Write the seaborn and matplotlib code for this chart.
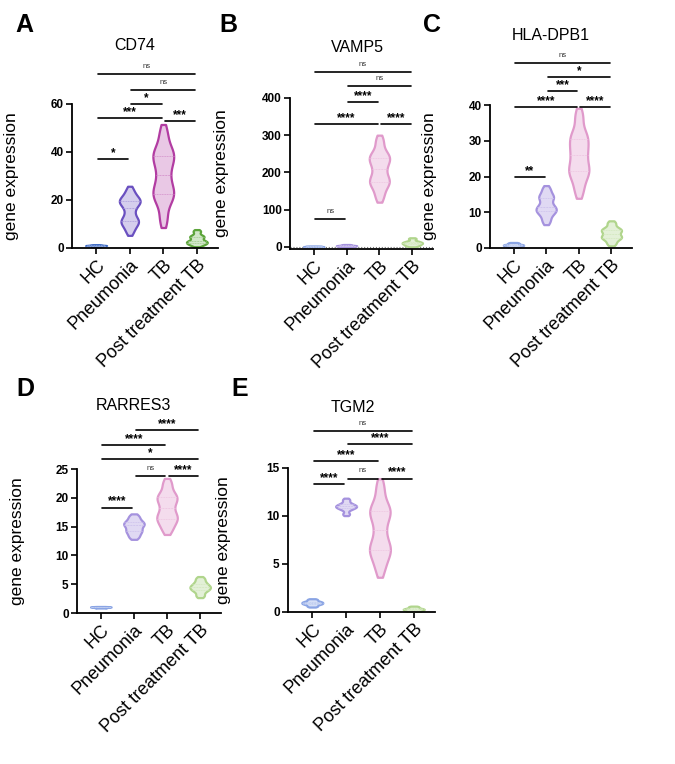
import numpy as np
import pandas as pd
import matplotlib
matplotlib.use('Agg')
import matplotlib.pyplot as plt
import matplotlib.colors as mcolors
import seaborn as sns

groups = ['HC', 'Pneumonia', 'TB', 'Post treatment TB']

# per-sample expression values
cd74 = [[0.6, 0.9, 1.0, 1.1, 1.3],
        [7, 10, 11, 12, 15, 18, 19, 20, 21, 24],
        [12, 20, 22, 24, 28, 33, 37, 39, 41, 48],
        [1.2, 2, 2.5, 3, 4.5, 5, 7]]
vamp5 = [[0.2, 0.5, 1, 1.5, 2],
         [0.5, 1.5, 2.5, 3, 4, 5.5],
         [135, 165, 175, 185, 210, 230, 240, 250, 285],
         [2, 5, 8, 10, 12, 15, 22]]
hla_dpb1 = [[0.3, 0.6, 0.8, 1.0, 1.4],
            [7.5, 9.5, 10.5, 11, 12, 14, 14.5, 16.5],
            [16, 20, 21.5, 23, 26, 28, 30.5, 32, 37],
            [1.2, 2.5, 3, 3.5, 4.5, 5, 5.5, 7]]
rarres3 = [[0.9, 1.0, 1.05, 1.1],
           [13.2, 14, 14.5, 15.2, 15.5, 16, 16.8],
           [14.5, 16, 16.5, 17.5, 19, 20, 20.5, 22.5],
           [3, 3.8, 4.2, 4.5, 4.8, 5.3, 6]]
tgm2 = [[0.6, 0.8, 0.9, 1.0, 1.1, 1.3],
        [10.2, 10.7, 10.9, 11.0, 11.1, 11.3, 11.7],
        [4.5, 6, 6.5, 7, 8.5, 10, 10.5, 11, 13],
        [0.05, 0.15, 0.25, 0.3, 0.4, 0.55]]

# significance comparisons: (group i, group j), label, bracket height
cd74_pairs = [(0, 3), (1, 3), (1, 2), (0, 2), (2, 3), (0, 1)]
cd74_labels = ['ns', 'ns', '*', '***', '***', '*']
cd74_heights = [72.5, 65.8, 60, 54.2, 52.9, 37.1]

vamp5_pairs = [(0, 3), (1, 3), (1, 2), (0, 2), (2, 3), (0, 1)]
vamp5_labels = ['ns', 'ns', '****', '****', '****', 'ns']
vamp5_heights = [470, 432, 390, 330, 330, 75]

hla_pairs = [(0, 3), (1, 3), (1, 2), (0, 2), (2, 3), (0, 1)]
hla_labels = ['ns', '*', '***', '****', '****', '**']
hla_heights = [51.8, 47.7, 44, 39.5, 39.5, 19.9]

rarres3_pairs = [(1, 3), (0, 2), (0, 3), (1, 2), (2, 3), (0, 1)]
rarres3_labels = ['****', '****', '*', 'ns', '****', '****']
rarres3_heights = [31.8, 29.2, 26.7, 23.8, 23.8, 18.3]

tgm2_pairs = [(0, 3), (1, 3), (0, 2), (1, 2), (2, 3), (0, 1)]
tgm2_labels = ['ns', '****', '****', 'ns', '****', '****']
tgm2_heights = [18.85, 17.5, 15.7, 13.9, 13.9, 13.3]

strong_edges = ['#3a68c4', '#6a50c0', '#b23ca2', '#5ca43a']
soft_edges = ['#8aa4e4', '#a592de', '#e09acb', '#b0d58c']


def lighten(color, amount):
    c = np.array(mcolors.to_rgb(color))
    return tuple(c + (1 - c) * amount)


def draw_violins(ax, values, edges, fill_amount):
    df = pd.DataFrame({'group': np.repeat(groups, [len(v) for v in values]),
                       'value': np.concatenate(values)})
    for g, ec in zip(groups, edges):
        sns.violinplot(data=df[df.group == g], x='group', y='value', order=groups,
                       color=lighten(ec, fill_amount), linecolor=ec, linewidth=1.6,
                       inner='quart', inner_kws=dict(linewidth=0.6, color=lighten(ec, 0.45)),
                       width=0.62, density_norm='width', bw_adjust=0.55, cut=0.9,
                       saturation=1, ax=ax)


def draw_brackets(ax, pairs, labels, heights):
    for (i, j), lab, h in zip(pairs, labels, heights):
        ax.plot([i + 0.05, j - 0.05], [h, h], color='black', lw=1.2, clip_on=False)
        if lab == 'ns':
            ax.annotate(lab, (0.5 * (i + j), h), xytext=(0, 3), textcoords='offset points',
                        ha='center', va='bottom', fontsize=5.5, color='#333333',
                        annotation_clip=False)
        else:
            ax.annotate(lab, (0.5 * (i + j), h), xytext=(0, 0), textcoords='offset points',
                        ha='center', va='bottom', fontsize=8.5, fontweight='bold',
                        annotation_clip=False)


def style_axis(ax, yticks, ylim, label_x):
    ax.set_xlim(-0.72, 3.63)
    ax.set_ylim(*ylim)
    ax.set_yticks(yticks)
    ax.set_yticklabels([str(t) for t in yticks], fontsize=8.5, fontweight='bold')
    ax.set_xticks(range(len(groups)))
    ax.set_xticklabels(groups, rotation=45, ha='right', rotation_mode='anchor', fontsize=13)
    ax.set_xlabel('')
    ax.set_ylabel('gene expression', fontsize=12.5)
    ax.yaxis.set_label_coords(label_x, 0.5)
    for side in ['top', 'right']:
        ax.spines[side].set_visible(False)
    for side in ['left', 'bottom']:
        ax.spines[side].set_linewidth(1.3)
        ax.spines[side].set_color('black')
    ax.tick_params(axis='both', width=1.2, length=4, pad=2, color='black', labelcolor='black')


sns.set_style('ticks')
plt.rcParams['font.family'] = ['Liberation Sans', 'DejaVu Sans']
plt.rcParams['text.color'] = 'black'
plt.rcParams['axes.labelcolor'] = 'black'

fig = plt.figure(figsize=(6.75, 7.64), dpi=100)
W, H = 675.0, 764.0


def add_axes(left, right, top, bottom):
    return fig.add_axes([left / W, 1 - bottom / H, (right - left) / W, (bottom - top) / H])


panels = [
    dict(box=(72, 218, 104, 248), vals=cd74, edges=strong_edges, fill=0.72,
         pairs=cd74_pairs, labels=cd74_labels, heights=cd74_heights,
         yticks=[0, 20, 40, 60], ylim=(0, 60), lx=-0.36,
         title='CD74', tpos=(135, 45), letter='A', lpos=(24, 25)),
    dict(box=(290, 433, 98, 249), vals=vamp5, edges=soft_edges, fill=0.65,
         pairs=vamp5_pairs, labels=vamp5_labels, heights=vamp5_heights,
         yticks=[0, 100, 200, 300, 400], ylim=(-6, 400), lx=-0.43,
         title='VAMP5', tpos=(357, 48), letter='B', lpos=(228, 25)),
    dict(box=(490, 632, 105, 248), vals=hla_dpb1, edges=soft_edges, fill=0.65,
         pairs=hla_pairs, labels=hla_labels, heights=hla_heights,
         yticks=[0, 10, 20, 30, 40], ylim=(0, 40), lx=-0.37,
         title='HLA-DPB1', tpos=(551, 36), letter='C', lpos=(432, 25)),
    dict(box=(77, 221, 469, 613), vals=rarres3, edges=soft_edges, fill=0.65,
         pairs=rarres3_pairs, labels=rarres3_labels, heights=rarres3_heights,
         yticks=[0, 5, 10, 15, 20, 25], ylim=(0, 25), lx=-0.36,
         title='RARRES3', tpos=(133, 406), letter='D', lpos=(25, 389)),
    dict(box=(288, 435, 468, 612), vals=tgm2, edges=soft_edges, fill=0.65,
         pairs=tgm2_pairs, labels=tgm2_labels, heights=tgm2_heights,
         yticks=[0, 5, 10, 15], ylim=(0, 15), lx=-0.39,
         title='TGM2', tpos=(353, 408), letter='E', lpos=(240, 389)),
]

for p in panels:
    l, r, t, b = p['box']
    ax = add_axes(l, r, t, b)
    draw_violins(ax, p['vals'], p['edges'], p['fill'])
    if p['title'] == 'VAMP5':
        ax.axhline(0, color='#777777', lw=0.8, ls=':', zorder=0)
    style_axis(ax, p['yticks'], p['ylim'], p['lx'])
    draw_brackets(ax, p['pairs'], p['labels'], p['heights'])
    fig.text(p['tpos'][0] / W, 1 - p['tpos'][1] / H, p['title'], ha='center', va='center',
             fontsize=11.5)
    fig.text(p['lpos'][0] / W, 1 - p['lpos'][1] / H, p['letter'], ha='center', va='center',
             fontsize=18, fontweight='bold')

fig.savefig('out.png', dpi=100, facecolor='white')
